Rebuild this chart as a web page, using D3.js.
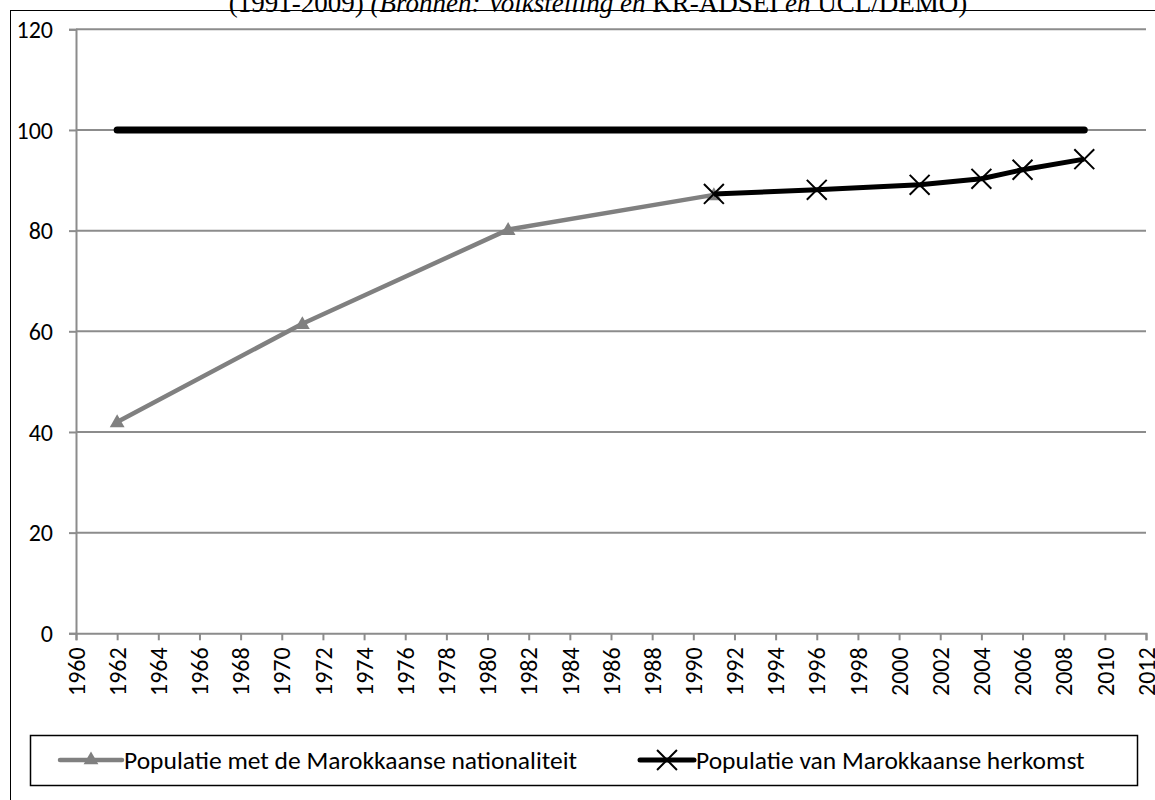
<!DOCTYPE html>
<html>
<head>
<meta charset="utf-8">
<script src="https://cdn.jsdelivr.net/npm/d3@7"></script>
<style>
  body { margin: 0; background: #fff; }
  svg { display: block; }
  .chart text { font-family: Carlito, Calibri, Lato, sans-serif; fill: #000; }
  .chart__title text { font-family: "Liberation Serif", "Times New Roman", serif; }
</style>
</head>
<body>
<svg class="chart"></svg>
<script>
const nationaliteitYears = [1962, 1971, 1981, 1991]
const nationaliteit = [42, 61.5, 80.2, 87.1]
const herkomstYears = [1991, 1996, 2001, 2004, 2006, 2009]
const herkomst = [87.3, 88.1, 89.1, 90.3, 92.1, 94.2]
const totaalYears = [1962, 2009]
const totaal = [100, 100]
const xTicks = d3.range(1960, 2013, 2)
const yTicks = [0, 20, 40, 60, 80, 100, 120]
const legendLabels = ['Populatie met de Marokkaanse nationaliteit', 'Populatie van Marokkaanse herkomst']
const titleParts = [
  { t: '(1991-2009) ', i: false },
  { t: '(Bronnen: Volkstelling en ', i: true },
  { t: 'KR-ADSEI ', i: false },
  { t: 'en ', i: true },
  { t: 'UCL/DEMO)', i: false }
]

const width = 1155, height = 800
const margin = { left: 76, right: 1146, top: 29.3, bottom: 633.3 }

const svg = d3.select('.chart')
  .attr('width', width)
  .attr('height', height)

const x = d3.scaleLinear().domain([1960, 2012]).range([margin.left, margin.right])
const y = d3.scaleLinear().domain([0, 120]).range([margin.bottom, margin.top])

// frame around the figure, runs off the page on the right and bottom
svg.append('rect')
  .attr('x', 10.5).attr('y', 10.5)
  .attr('width', 1200).attr('height', 900)
  .attr('fill', 'none')
  .attr('stroke', '#000')
  .attr('stroke-width', 1)

// caption, cut at the top
const title = svg.append('g').attr('class', 'chart__title')
  .append('text')
  .attr('x', 598)
  .attr('y', 12)
  .attr('text-anchor', 'middle')
  .style('font-size', '27px')
title.selectAll('tspan')
  .data(titleParts)
  .enter().append('tspan')
  .style('font-style', d => d.i ? 'italic' : 'normal')
  .text(d => d.t)

// gridlines
svg.append('g')
  .selectAll('line')
  .data(yTicks.filter(d => d > 0))
  .enter().append('line')
  .attr('x1', margin.left).attr('x2', margin.right)
  .attr('y1', d => y(d)).attr('y2', d => y(d))
  .attr('stroke', '#8c8c8c')
  .attr('stroke-width', 2)

const yAxis = svg.append('g')
  .attr('transform', `translate(${margin.left},0)`)
  .call(d3.axisLeft(y).tickValues(yTicks).tickSize(7).tickPadding(16))
yAxis.select('.domain').attr('stroke', '#8c8c8c').attr('stroke-width', 2)
yAxis.selectAll('.tick line').attr('stroke', '#8c8c8c').attr('stroke-width', 2)
yAxis.selectAll('.tick text')
  .style('font-size', '24px')
  .attr('dy', '0.34em')

const xAxis = svg.append('g')
  .attr('transform', `translate(0,${margin.bottom})`)
  .call(d3.axisBottom(x).tickValues(xTicks).tickFormat(d3.format('d')).tickSize(7).tickSizeOuter(7))
xAxis.select('.domain').attr('stroke', '#8c8c8c').attr('stroke-width', 2)
xAxis.selectAll('.tick line').attr('stroke', '#8c8c8c').attr('stroke-width', 2)
xAxis.selectAll('.tick text')
  .style('font-size', '24px')
  .attr('text-anchor', 'end')
  .attr('transform', 'rotate(-90)')
  .attr('x', -14)
  .attr('y', 0)
  .attr('dy', '0.34em')

const line = d3.line().x(d => x(d[0])).y(d => y(d[1]))

svg.append('path')
  .datum(d3.zip(totaalYears, totaal))
  .attr('d', line)
  .attr('fill', 'none')
  .attr('stroke', '#000')
  .attr('stroke-width', 7)
  .attr('stroke-linecap', 'round')

svg.append('path')
  .datum(d3.zip(nationaliteitYears, nationaliteit))
  .attr('d', line)
  .attr('fill', 'none')
  .attr('stroke', '#808080')
  .attr('stroke-width', 4.5)
  .attr('stroke-linejoin', 'round')

const triangle = d3.symbol().type(d3.symbolTriangle).size(95)
svg.append('g')
  .selectAll('path')
  .data(d3.zip(nationaliteitYears, nationaliteit))
  .enter().append('path')
  .attr('d', triangle)
  .attr('transform', d => `translate(${x(d[0])},${y(d[1]) + 1})`)
  .attr('fill', '#808080')

svg.append('path')
  .datum(d3.zip(herkomstYears, herkomst))
  .attr('d', line)
  .attr('fill', 'none')
  .attr('stroke', '#000')
  .attr('stroke-width', 5)
  .attr('stroke-linejoin', 'round')

const cross = d3.symbol().type(d3.symbolTimes).size(260)
svg.append('g')
  .selectAll('path')
  .data(d3.zip(herkomstYears, herkomst))
  .enter().append('path')
  .attr('d', cross)
  .attr('transform', d => `translate(${x(d[0])},${y(d[1])})`)
  .attr('fill', 'none')
  .attr('stroke', '#000')
  .attr('stroke-width', 2)

// legend
const legend = svg.append('g')
legend.append('rect')
  .attr('x', 30.5).attr('y', 735.5)
  .attr('width', 1107).attr('height', 50)
  .attr('fill', '#fff')
  .attr('stroke', '#000')
  .attr('stroke-width', 1.5)

const legendItems = [
  { x0: 60, x1: 122, color: '#808080', sw: 4.5, marker: triangle, fill: '#808080', stroke: 'none' },
  { x0: 640, x1: 694, color: '#000', sw: 5, marker: cross, fill: 'none', stroke: '#000' }
]
const ly = 760
legendItems.forEach((item, i) => {
  legend.append('line')
    .attr('x1', item.x0).attr('x2', item.x1)
    .attr('y1', ly).attr('y2', ly)
    .attr('stroke', item.color)
    .attr('stroke-width', item.sw)
    .attr('stroke-linecap', 'round')
  legend.append('path')
    .attr('d', item.marker)
    .attr('transform', `translate(${(item.x0 + item.x1) / 2},${ly})`)
    .attr('fill', item.fill)
    .attr('stroke', item.stroke)
    .attr('stroke-width', 2)
  legend.append('text')
    .attr('x', item.x1 + 2)
    .attr('y', ly)
    .attr('dy', '0.35em')
    .style('font-size', '25.5px')
    .text(legendLabels[i])
})
</script>
</body>
</html>
